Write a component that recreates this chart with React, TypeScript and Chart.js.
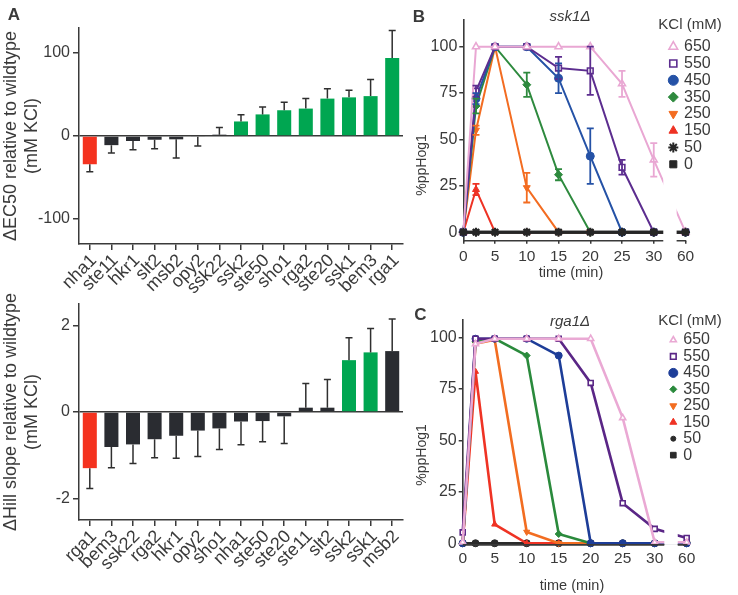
import React, { useEffect, useRef } from 'react';
import { Chart, registerables, PointElement } from 'chart.js';

Chart.register(...registerables);

const FONT = "'Liberation Sans', Arial, Helvetica, sans-serif";
const AXIS_COLOR = '#3a3a3a';
const TEXT_COLOR = '#3a3a3a';
const RED = '#f4321f';
const GREEN = '#00a651';
const DARK = '#2a2c31';

// ---- Panel A (top): change in EC50 per deletion ----
const ec50Genes = ['nha1', 'ste11', 'hkr1', 'slt2', 'msb2', 'opy2', 'ssk22', 'ssk2', 'ste50', 'sho1', 'rga2', 'ste20', 'ssk1', 'bem3', 'rga1'];
const ec50Values = [-34, -11, -6, -4.5, -4, -1, 1.6, 17.5, 26, 31, 33, 45, 46.5, 48, 94];
const ec50Errors = [9, 9.5, 10.5, 10.8, 22.5, 11, 8.5, 8, 9, 9.5, 12, 12, 8.5, 20, 33];
const ec50Groups = ['dec', 'ns', 'ns', 'ns', 'ns', 'ns', 'ns', 'inc', 'inc', 'inc', 'inc', 'inc', 'inc', 'inc', 'inc'];
const ec50Ticks = [-100, 0, 100];

// ---- Panel A (bottom): change in Hill slope per deletion ----
const hillGenes = ['rga1', 'bem3', 'ssk22', 'rga2', 'hkr1', 'opy2', 'sho1', 'nha1', 'ste50', 'ste20', 'ste11', 'slt2', 'ssk2', 'ssk1', 'msb2'];
const hillValues = [-1.3, -0.81, -0.75, -0.63, -0.55, -0.43, -0.38, -0.22, -0.21, -0.1, 0.1, 0.1, 1.2, 1.38, 1.41];
const hillErrors = [0.47, 0.48, 0.44, 0.43, 0.52, 0.6, 0.49, 0.54, 0.48, 0.63, 0.56, 0.65, 0.52, 0.55, 0.74];
const hillGroups = ['dec', 'ns', 'ns', 'ns', 'ns', 'ns', 'ns', 'ns', 'ns', 'ns', 'ns', 'ns', 'inc', 'inc', 'ns'];
const hillTicks = [-2, 0, 2];

// ---- Panels B and C: %ppHog1 time courses ----
const timePoints = [0, 2, 5, 10, 15, 20, 25, 30, 60];
const timeTickLabels = [0, 5, 10, 15, 20, 25, 30, 60];
const pctTicks = [0, 25, 50, 75, 100];
const kclLevels = ['650', '550', '450', '350', '250', '150', '50', '0'];

// ssk1Δ means and error half-widths
const ssk1_650 = [0, 100, 100, 100, 100, 100, 80, 39, 0];
const ssk1_550 = [0, 76, 100, 100, 88.5, 87, 35, 0, 0];
const ssk1_450 = [0, 72, 100, 100, 83, 41, 0, 0, 0];
const ssk1_350 = [0, 68, 100, 79.5, 31, 0, 0, 0, 0];
const ssk1_250 = [0, 55, 100, 24, 0, 0, 0, 0, 0];
const ssk1_150 = [0, 23, 0, 0, 0, 0, 0, 0, 0];
const ssk1_50 = [0, 0, 0, 0, 0, 0, 0, 0, 0];
const ssk1_0 = [0, 0, 0, 0, 0, 0, 0, 0, 0];
const ssk1Err_650 = [0, 0, 0, 0, 0, 0, 7, 9, 0];
const ssk1Err_550 = [0, 3, 0, 0, 6, 13, 4, 0, 0];
const ssk1Err_450 = [0, 3, 0, 0, 8, 15, 0, 0, 0];
const ssk1Err_350 = [0, 4, 0, 6.5, 3, 0, 0, 0, 0];
const ssk1Err_250 = [0, 2.5, 0, 8, 0, 0, 0, 0, 0];
const ssk1Err_150 = [0, 3, 0, 0, 0, 0, 0, 0, 0];

// rga1Δ means
const rga1_650 = [0.5, 97, 99.5, 99.5, 99.5, 99.5, 61, 0.5, 0.5];
const rga1_550 = [5.3, 99.5, 99.5, 99.5, 99.5, 78, 19.5, 7, 2.6];
const rga1_450 = [0, 99.5, 99.5, 99.5, 91.3, 0, 0, 0, 0];
const rga1_350 = [0, 98, 99.5, 91.3, 4.5, 0, 0, 0, 0];
const rga1_250 = [0, 97, 99, 5.5, 0, 0, 0, 0, 0];
const rga1_150 = [0, 83.5, 9.2, 0, 0, 0, 0, 0, 0];
const rga1_50 = [0, 0, 0, 0, 0, 0, 0, 0, 0];
const rga1_0 = [0, 0, 0, 0, 0, 0, 0, 0, 0];

const colorsB = ['#e9a7d3', '#5c2d8f', '#2552a6', '#2e8a3e', '#f36c21', '#ee3224', '#262626', '#262626'];
const colorsC = ['#eaa9d4', '#5a2686', '#1d3d98', '#2a8a3c', '#f26d21', '#ef3324', '#2b2b2b', '#2b2b2b'];
const markerStyles = ['triangle', 'rect', 'circle', 'rectRot', 'triangle', 'triangle', 'star', 'rect'];
const markerStylesC = ['triangle', 'rect', 'circle', 'rectRot', 'triangle', 'triangle', 'circle', 'rect'];
const markerRotation = [0, 0, 0, 0, 180, 0, 0, 0];
const markerOpen = [true, true, false, false, false, false, false, false];

// Broken time axis: minutes up to 30 map directly, 60 min sits after the break
const BREAK_AT = 30;
const LATE_POS = 35;
const GAP_FROM = 31.5;
const GAP_TO = 33.6;
const toAxis = (t: number) => (t <= BREAK_AT ? t : LATE_POS);

type Area = { left: number; right: number; top: number; bottom: number; width: number; height: number };
type TextItem = { text: string; x: number; y: number; size: number; weight?: string; style?: string; rotate?: number; align?: CanvasTextAlign };

function textPlugin(items: TextItem[]) {
  return {
    id: 'panelText',
    afterDraw(chart: any) {
      const ctx = chart.ctx as CanvasRenderingContext2D;
      items.forEach((it) => {
        ctx.save();
        ctx.translate(it.x, it.y);
        if (it.rotate) ctx.rotate(it.rotate);
        ctx.font = `${it.style || 'normal'} ${it.weight || 'normal'} ${it.size}px ${FONT}`;
        ctx.fillStyle = TEXT_COLOR;
        ctx.textAlign = it.align || 'center';
        ctx.textBaseline = 'middle';
        ctx.fillText(it.text, 0, 0);
        ctx.restore();
      });
    },
  };
}

function barErrorPlugin(errors: number[]) {
  return {
    id: 'barErrors',
    afterDatasetsDraw(chart: any) {
      const ctx = chart.ctx as CanvasRenderingContext2D;
      const meta = chart.getDatasetMeta(0);
      const yScale = chart.scales.y;
      const values = chart.data.datasets[0].data as number[];
      ctx.save();
      ctx.strokeStyle = '#2f2f2f';
      ctx.lineWidth = 1.5;
      meta.data.forEach((bar: any, i: number) => {
        const v = values[i];
        const dir = v >= 0 ? 1 : -1;
        const y0 = yScale.getPixelForValue(v);
        const y1 = yScale.getPixelForValue(v + dir * errors[i]);
        const cap = 3.5;
        ctx.beginPath();
        ctx.moveTo(bar.x, y0);
        ctx.lineTo(bar.x, y1);
        ctx.moveTo(bar.x - cap, y1);
        ctx.lineTo(bar.x + cap, y1);
        ctx.stroke();
      });
      ctx.restore();
    },
  };
}

function pointErrorPlugin(errors: (number[] | null)[], values: number[][]) {
  return {
    id: 'pointErrors',
    afterDatasetsDraw(chart: any) {
      const ctx = chart.ctx as CanvasRenderingContext2D;
      const yScale = chart.scales.y;
      ctx.save();
      ctx.lineWidth = 1.8;
      errors.forEach((err, di) => {
        if (!err) return;
        const meta = chart.getDatasetMeta(di);
        ctx.strokeStyle = chart.data.datasets[di].borderColor;
        meta.data.forEach((pt: any, i: number) => {
          const e = err[i];
          if (!e) return;
          const yHi = yScale.getPixelForValue(values[di][i] + e);
          const yLo = yScale.getPixelForValue(values[di][i] - e);
          const cap = 3.5;
          ctx.beginPath();
          ctx.moveTo(pt.x, yHi);
          ctx.lineTo(pt.x, yLo);
          ctx.moveTo(pt.x - cap, yHi);
          ctx.lineTo(pt.x + cap, yHi);
          ctx.moveTo(pt.x - cap, yLo);
          ctx.lineTo(pt.x + cap, yLo);
          ctx.stroke();
        });
      });
      ctx.restore();
    },
  };
}

function brokenAxisPlugin() {
  return {
    id: 'brokenAxis',
    afterDatasetsDraw(chart: any) {
      const ctx = chart.ctx as CanvasRenderingContext2D;
      const { chartArea } = chart;
      const xs = chart.scales.x;
      const a = xs.getPixelForValue(GAP_FROM);
      const b = xs.getPixelForValue(GAP_TO);
      const yb = chartArea.bottom;
      ctx.save();
      ctx.fillStyle = '#ffffff';
      ctx.fillRect(a, chartArea.top - 8, b - a, yb - chartArea.top + 8);
      ctx.strokeStyle = AXIS_COLOR;
      ctx.lineWidth = 1.6;
      ctx.beginPath();
      ctx.moveTo(chartArea.left, yb);
      ctx.lineTo(a, yb);
      ctx.moveTo(b, yb);
      ctx.lineTo(chartArea.right + 0.8, yb);
      ctx.stroke();
      ctx.restore();
    },
  };
}

function kclLegendPlugin(cfg: { markerX: number; textX: number; y0: number; step: number; radii: number[]; size: number }) {
  return {
    id: 'kclLegend',
    afterDraw(chart: any) {
      const ctx = chart.ctx as CanvasRenderingContext2D;
      chart.data.datasets.forEach((ds: any, i: number) => {
        const y = cfg.y0 + i * cfg.step;
        const el: any = new (PointElement as any)({
          x: cfg.markerX,
          y,
          options: {
            pointStyle: ds.pointStyle,
            rotation: ds.pointRotation || 0,
            radius: cfg.radii[i],
            borderWidth: ds.pointBorderWidth,
            borderColor: ds.pointBorderColor,
            backgroundColor: ds.pointBackgroundColor,
          },
        });
        ctx.save();
        el.draw(ctx);
        ctx.restore();
        ctx.save();
        ctx.font = `${cfg.size}px ${FONT}`;
        ctx.fillStyle = TEXT_COLOR;
        ctx.textAlign = 'left';
        ctx.textBaseline = 'middle';
        ctx.fillText(ds.label, cfg.textX, y);
        ctx.restore();
      });
    },
  };
}

function barConfig(
  labels: string[],
  values: number[],
  errors: number[],
  groups: string[],
  ticks: number[],
  yMin: number,
  yMax: number,
  title: string[],
  area: Area,
  texts: TextItem[],
) {
  const colorOf = (g: string) => (g === 'dec' ? RED : g === 'inc' ? GREEN : DARK);
  return {
    type: 'bar',
    data: {
      labels,
      datasets: [
        {
          data: values,
          backgroundColor: groups.map(colorOf),
          borderWidth: 0,
          barPercentage: 0.65,
          categoryPercentage: 1,
        },
      ],
    },
    options: {
      responsive: false,
      animation: false,
      devicePixelRatio: 1,
      events: [],
      layout: { padding: { left: 0, top: area.top, right: area.width - area.right, bottom: 0 } },
      plugins: { legend: { display: false }, tooltip: { enabled: false } },
      scales: {
        x: {
          type: 'category',
          offset: true,
          afterFit: (s: any) => {
            s.height = area.height - area.bottom;
          },
          grid: { drawOnChartArea: false, offset: false, drawTicks: true, tickLength: 6, tickColor: AXIS_COLOR, lineWidth: 1.5 },
          border: { display: true, color: AXIS_COLOR, width: 1.5 },
          ticks: {
            autoSkip: false,
            minRotation: 45,
            maxRotation: 45,
            padding: 0,
            labelOffset: 4,
            color: TEXT_COLOR,
            font: { family: FONT, size: 18 },
          },
        },
        y: {
          min: yMin,
          max: yMax,
          afterBuildTicks: (s: any) => {
            s.ticks = ticks.map((v) => ({ value: v }));
          },
          afterFit: (s: any) => {
            s.width = area.left;
          },
          grid: {
            drawOnChartArea: true,
            color: (c: any) => (c.tick && c.tick.value === 0 ? AXIS_COLOR : 'rgba(0,0,0,0)'),
            lineWidth: 1.5,
            drawTicks: true,
            tickLength: 6,
            tickColor: AXIS_COLOR,
          },
          border: { display: true, color: AXIS_COLOR, width: 1.5 },
          ticks: { padding: 3, color: TEXT_COLOR, font: { family: FONT, size: 16 } },
          title: {
            display: true,
            text: title,
            color: TEXT_COLOR,
            padding: 0,
            font: { family: FONT, size: 18, lineHeight: 1.2 },
          },
        },
      },
    },
    plugins: [barErrorPlugin(errors), textPlugin(texts)],
  };
}

function timeCourseConfig(opts: {
  series: number[][];
  errors: (number[] | null)[];
  colors: string[];
  styles: string[];
  radius: number;
  lineWidth: number;
  blackLineWidth: number;
  blackOnTop: boolean;
  area: Area;
  yMin: number;
  yMax: number;
  xTickLength: number;
  xTickPadding: number;
  legend: { markerX: number; textX: number; y0: number; step: number; radii: number[]; size: number };
  texts: TextItem[];
}) {
  const { area } = opts;
  const datasets = opts.series.map((vals, i) => {
    const color = opts.colors[i];
    const isBlack = i >= 6;
    return {
      label: kclLevels[i],
      data: timePoints.map((t, j) => ({ x: toAxis(t), y: vals[j] })),
      borderColor: color,
      backgroundColor: color,
      borderWidth: isBlack ? opts.blackLineWidth : opts.lineWidth,
      pointStyle: opts.styles[i],
      pointRotation: markerRotation[i],
      pointRadius: opts.styles[i] === 'star' ? opts.radius + 0.5 : opts.radius,
      pointBorderWidth: markerOpen[i] ? 1.6 : opts.styles[i] === 'star' ? 2 : 1,
      pointBorderColor: color,
      pointBackgroundColor: markerOpen[i] ? '#ffffff' : color,
      clip: false,
      order: isBlack ? (opts.blackOnTop ? -1 : 20) : i,
    };
  });
  return {
    type: 'line',
    data: { datasets },
    options: {
      responsive: false,
      animation: false,
      devicePixelRatio: 1,
      events: [],
      layout: { padding: { left: 0, top: area.top, right: area.width - area.right, bottom: 0 } },
      plugins: { legend: { display: false }, tooltip: { enabled: false } },
      scales: {
        x: {
          type: 'linear',
          min: 0,
          max: LATE_POS,
          afterBuildTicks: (s: any) => {
            s.ticks = timeTickLabels.map((t) => ({ value: toAxis(t) }));
          },
          afterFit: (s: any) => {
            s.height = area.height - area.bottom;
          },
          grid: {
            display: opts.xTickLength > 0,
            drawOnChartArea: false,
            drawTicks: opts.xTickLength > 0,
            tickLength: opts.xTickLength,
            tickColor: AXIS_COLOR,
            lineWidth: 1.5,
          },
          border: { display: false },
          ticks: {
            autoSkip: false,
            maxRotation: 0,
            padding: opts.xTickPadding,
            color: TEXT_COLOR,
            font: { family: FONT, size: 15.5 },
            callback: (_v: any, i: number) => String(timeTickLabels[i]),
          },
        },
        y: {
          min: opts.yMin,
          max: opts.yMax,
          afterBuildTicks: (s: any) => {
            s.ticks = pctTicks.map((v) => ({ value: v }));
          },
          afterFit: (s: any) => {
            s.width = area.left;
          },
          grid: { drawOnChartArea: false, drawTicks: true, tickLength: 4, tickColor: AXIS_COLOR, lineWidth: 1.5 },
          border: { display: true, color: AXIS_COLOR, width: 1.6 },
          ticks: { padding: 2, color: TEXT_COLOR, font: { family: FONT, size: 16 } },
        },
      },
    },
    plugins: [
      pointErrorPlugin(opts.errors, opts.series),
      brokenAxisPlugin(),
      kclLegendPlugin(opts.legend),
      textPlugin(opts.texts),
    ],
  };
}

function ChartCanvas({ make, left, top, width, height }: { make: () => any; left: number; top: number; width: number; height: number }) {
  const ref = useRef<HTMLCanvasElement | null>(null);
  useEffect(() => {
    if (!ref.current) return;
    const chart = new Chart(ref.current, make());
    return () => chart.destroy();
  }, []);
  return (
    <canvas
      ref={ref}
      width={width}
      height={height}
      style={{ position: 'absolute', left, top, width, height, display: 'block' }}
    />
  );
}

const HALF_TURN = -Math.PI / 2;

export default function App() {
  const areaA1: Area = { left: 79, right: 403, top: 28, bottom: 244, width: 410, height: 300 };
  const areaA2: Area = { left: 79, right: 403, top: 14, bottom: 230, width: 410, height: 305 };
  const areaB: Area = { left: 63.3, right: 285.5, top: 20, bottom: 240.7, width: 338, height: 290 };
  const areaC: Area = { left: 62.7, right: 286.7, top: 30, bottom: 254.9, width: 338, height: 305 };

  const makeA1 = () =>
    barConfig(ec50Genes, ec50Values, ec50Errors, ec50Groups, ec50Ticks, -130, 130,
      ['ΔEC50 relative to wildtype', '(mM KCl)'], areaA1,
      [{ text: 'A', x: 14, y: 15, size: 17, weight: 'bold' }]);

  const makeA2 = () =>
    barConfig(hillGenes, hillValues, hillErrors, hillGroups, hillTicks, -2.5, 2.5,
      ['ΔHill slope relative to wildtype', '(mM KCl)'], areaA2, []);

  const makeB = () =>
    timeCourseConfig({
      series: [ssk1_650, ssk1_550, ssk1_450, ssk1_350, ssk1_250, ssk1_150, ssk1_50, ssk1_0],
      errors: [ssk1Err_650, ssk1Err_550, ssk1Err_450, ssk1Err_350, ssk1Err_250, ssk1Err_150, null, null],
      colors: colorsB,
      styles: markerStyles,
      radius: 4,
      lineWidth: 2,
      blackLineWidth: 3,
      blackOnTop: true,
      area: areaB,
      yMin: -4.6,
      yMax: 114.4,
      xTickLength: 3,
      xTickPadding: 4,
      legend: { markerX: 273.3, textX: 284, y0: 46.7, step: 16.8, radii: [5, 5, 5, 5, 5, 5, 5, 5], size: 16 },
      texts: [
        { text: 'B', x: 19, y: 17, size: 17, weight: 'bold' },
        { text: 'ssk1Δ', x: 170, y: 17, size: 15, style: 'italic' },
        { text: 'KCl (mM)', x: 290, y: 25, size: 15 },
        { text: '%ppHog1', x: 21.7, y: 165, size: 14, rotate: HALF_TURN },
        { text: 'time (min)', x: 171, y: 273, size: 14.5 },
      ],
    });

  const makeC = () =>
    timeCourseConfig({
      series: [rga1_650, rga1_550, rga1_450, rga1_350, rga1_250, rga1_150, rga1_50, rga1_0],
      errors: [null, null, null, null, null, null, null, null],
      colors: colorsC,
      styles: markerStylesC,
      radius: 3.5,
      lineWidth: 2.6,
      blackLineWidth: 2.6,
      blackOnTop: false,
      area: areaC,
      yMin: -0.8,
      yMax: 108.6,
      xTickLength: 0,
      xTickPadding: 5,
      legend: { markerX: 273.3, textX: 283.3, y0: 50, step: 16.45, radii: [3.5, 4, 4.5, 3.5, 4, 4, 2.5, 4], size: 16 },
      texts: [
        { text: 'C', x: 20.5, y: 25, size: 17, weight: 'bold' },
        { text: 'rga1Δ', x: 170, y: 31.5, size: 15, style: 'italic' },
        { text: 'KCl (mM)', x: 290, y: 31, size: 15 },
        { text: '%ppHog1', x: 21.7, y: 165, size: 14, rotate: HALF_TURN },
        { text: 'time (min)', x: 172, y: 296, size: 14.5 },
      ],
    });

  return (
    <div style={{ position: 'absolute', left: 0, top: 0, width: 738, height: 595, background: '#ffffff', overflow: 'hidden' }}>
      <ChartCanvas make={makeA1} left={0} top={0} width={410} height={300} />
      <ChartCanvas make={makeA2} left={0} top={290} width={410} height={305} />
      <ChartCanvas make={makeB} left={400} top={0} width={338} height={290} />
      <ChartCanvas make={makeC} left={400} top={290} width={338} height={305} />
    </div>
  );
}
